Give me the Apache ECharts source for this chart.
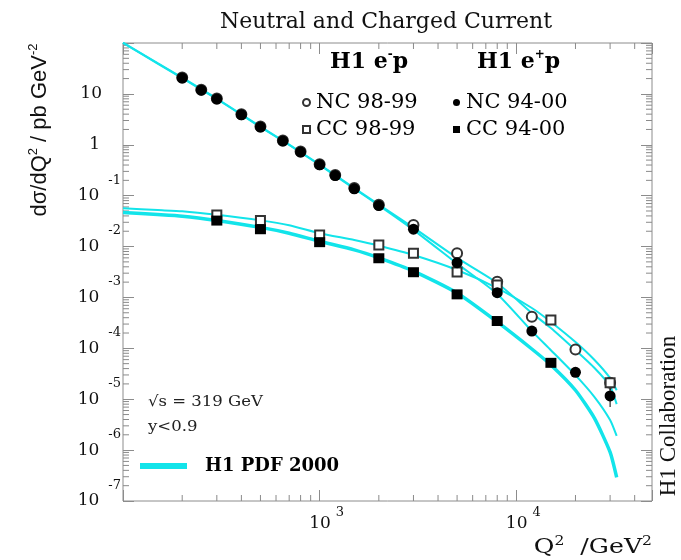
<!DOCTYPE html>
<html>
<head>
<meta charset="utf-8">
<script src="https://cdn.jsdelivr.net/npm/echarts@6.0.0/dist/echarts.min.js"></script>
<style>
html,body{margin:0;padding:0;background:#fff;}
#main{width:681px;height:560px;}
</style>
</head>
<body>
<div id="main"></div>
<script>
// ---- data ----
const q2NC = [200,250,300,400,500,650,800,1000,1200,1500,2000,3000,5000,8000,12000,20000,30000];
const ncEplus = [20.5,11.8,7.92,3.89,2.23,1.18,0.718,0.403,0.248,0.136,0.0638,0.0219,0.00482,0.00124,2.18e-4,3.37e-5,1.16e-5];
const ncEminus = [21.0,12.1,8.1,3.97,2.28,1.21,0.735,0.413,0.256,0.141,0.0665,0.0266,0.00738,0.00204,4.18e-4,9.53e-5,2.1e-5];

const q2CC = [300,500,1000,2000,3000,5000,8000,15000,30000];
const ccEminus = [0.0419,0.0324,0.0169,0.0107,0.00738,0.00316,0.00175,3.6e-4,2.1e-5];
const ccEplus = [0.0324,0.0219,0.0122,0.00589,0.00313,0.00115,3.44e-4,5.19e-5];

const errQ2 = [30000,30000];
const errLo = [7.0e-6,1.51e-5];
const errHi = [1.81e-5,2.72e-5];

const q2Curve = [100,150,200,300,500,700,1000,1500,2000,3000,5000,8000,12000,15000,20000,25000,30000,32400];
const curveNCplus = [100,39.5,20.5,7.94,2.23,0.99,0.40,0.137,0.0645,0.0213,0.00462,0.00117,2.18e-4,9.2e-5,2.97e-5,1.1e-5,3.9e-6,1.9e-6];
const curveNCminus = [102,40.2,20.9,8.1,2.28,1.01,0.41,0.141,0.067,0.0235,0.00597,0.00192,4.95e-4,2.5e-4,9.2e-5,4.1e-5,1.8e-5,8e-6];
const curveCCminus = [0.0565,0.052,0.0492,0.042,0.0327,0.0262,0.0183,0.0134,0.0104,0.00684,0.00347,0.00153,6.2e-4,3.3e-4,1.33e-4,5.9e-5,2.6e-5,1.5e-5];
const curveCCplus = [0.0465,0.0425,0.0395,0.0325,0.0238,0.0183,0.0127,0.0086,0.006,0.0033,0.00122,3.3e-4,9.7e-5,4.7e-5,1.5e-5,4.2e-6,9.1e-7,2.9e-7];

const xMin = 100, xMax = 49000, yMin = 1e-7, yMax = 100;

// ---- layout / style ----
const GRID = {left: 123, top: 43, width: 529, height: 458};
const SERIF = 'DejaVu Serif';
const CYAN = '#12e4ea';
const FRAME = '#8c8c8c';
const TICK_MAJOR = 11, TICK_MINOR = 6;
const PDF = 'H1 PDF 2000';

const zip = (xs, ys) => ys.map((v, i) => [xs[i], v]);
const pxPerDecY = GRID.height / Math.log10(yMax / yMin);

// minor tick marks (2..9 x 10^n) as thin rect symbols anchored on the axis values
const tickItems = [];
for (let e = 2; e <= 4; e++) for (let k = 2; k <= 9; k++) {
  const v = k * Math.pow(10, e);
  if (v > xMin && v < xMax) {
    const l = TICK_MINOR;
    tickItems.push({value: [v, yMin], symbolSize: [1, l], symbolOffset: [0, -l / 2]});
    tickItems.push({value: [v, yMax], symbolSize: [1, l], symbolOffset: [0, l / 2]});
  }
}
for (let e = -7; e <= 1; e++) for (let k = 2; k <= 9; k++) {
  const v = k * Math.pow(10, e);
  if (v > yMin && v < yMax) {
    const l = TICK_MINOR;
    tickItems.push({value: [xMin, v], symbolSize: [l, 1], symbolOffset: [l / 2, 0]});
    tickItems.push({value: [xMax, v], symbolSize: [l, 1], symbolOffset: [-l / 2, 0]});
  }
}
// error bars: thin rect centred (geometrically) between low and high
const errItems = errQ2.map((q, i) => ({
  value: [q, Math.sqrt(errLo[i] * errHi[i])],
  symbolSize: [1, Math.log10(errHi[i] / errLo[i]) * pxPerDecY]
}));

function decade(v) {
  const l = Math.log10(v); const e = Math.round(l);
  return Math.abs(l - e) < 1e-6 ? e : null;
}

const chart = echarts.init(document.getElementById('main'), null, {renderer: 'canvas'});

const curveSeries = (data, w) => ({
  type: 'line', name: PDF, data: data, showSymbol: false, smooth: 0.2,
  lineStyle: {color: CYAN, width: w}, itemStyle: {color: CYAN}, z: 2, silent: true
});
const majorTick = {show: true, inside: true, length: TICK_MAJOR, lineStyle: {color: FRAME, width: 1}};

const option = {
  animation: false,
  backgroundColor: '#fff',
  grid: Object.assign({show: true, borderColor: FRAME, borderWidth: 1, backgroundColor: 'transparent'}, GRID),
  xAxis: [{
    type: 'log', logBase: 10, min: xMin, max: xMax, splitNumber: 3, position: 'bottom',
    axisLine: {show: false}, axisTick: majorTick, splitLine: {show: false},
    axisLabel: {
      margin: 5, showMinLabel: true, showMaxLabel: true,
      formatter: v => { const e = decade(v); if (e === null || e === 2) return ''; return '{b|10}{s|' + e + '}'; },
      rich: {
        b: {fontFamily: SERIF, fontSize: 17, color: '#111', lineHeight: 36, verticalAlign: 'middle', padding: [0,0,0,14]},
        s: {fontFamily: SERIF, fontSize: 13, color: '#111', lineHeight: 14, verticalAlign: 'top', padding: [0,0,0,5]}
      }
    }
  }, {
    type: 'log', logBase: 10, min: xMin, max: xMax, splitNumber: 3, position: 'top',
    axisLine: {show: false}, axisTick: majorTick, splitLine: {show: false}, axisLabel: {show: false}
  }],
  yAxis: [{
    type: 'log', logBase: 10, min: yMin, max: yMax, splitNumber: 10, position: 'left',
    axisLine: {show: false}, axisTick: majorTick, splitLine: {show: false},
    axisLabel: {
      margin: 2, showMinLabel: true, showMaxLabel: true,
      formatter: v => {
        const e = decade(v);
        if (e === null || e === 2) return '';
        if (e === 1) return '{p|10}';
        if (e === 0) return '{q|1}';
        return '{b|10}{s|' + e + '}';
      },
      rich: {
        b: {fontFamily: SERIF, fontSize: 17, color: '#111', lineHeight: 44, verticalAlign: 'middle'},
        s: {fontFamily: SERIF, fontSize: 13, color: '#111', lineHeight: 14, verticalAlign: 'top', padding: [0,0,0,9]},
        p: {fontFamily: SERIF, fontSize: 17, color: '#111', padding: [0,19,0,0]},
        q: {fontFamily: SERIF, fontSize: 17, color: '#111', padding: [0,21,0,0]}
      }
    }
  }, {
    type: 'log', logBase: 10, min: yMin, max: yMax, splitNumber: 10, position: 'right',
    axisLine: {show: false}, axisTick: majorTick, splitLine: {show: false}, axisLabel: {show: false}
  }],
  legend: [
    {left: 302, top: 92, padding: 0, orient: 'vertical', itemGap: 6, itemWidth: 7, itemHeight: 7,
     data: ['NC 98-99', 'CC 98-99'], selectedMode: false,
     textStyle: {fontFamily: SERIF, fontSize: 21, lineHeight: 20, color: '#000', padding: [0,0,0,1]}},
    {left: 453, top: 92, padding: 0, orient: 'vertical', itemGap: 6, itemWidth: 7, itemHeight: 7,
     data: ['NC 94-00', 'CC 94-00'], selectedMode: false,
     textStyle: {fontFamily: SERIF, fontSize: 21, lineHeight: 20, color: '#000', padding: [0,0,0,1]}},
    {left: 140, top: 456, padding: 0, itemWidth: 47, itemHeight: 6, selectedMode: false,
     data: [{name: PDF, icon: 'rect', itemStyle: {color: CYAN}}],
     textStyle: {fontFamily: SERIF, fontSize: 18, fontWeight: 'bold', lineHeight: 20, color: '#000', padding: [0,0,0,13]}}
  ],
  graphic: [
    {type: 'text', x: 386, y: 22, style: {text: 'Neutral and Charged Current', font: '22px "DejaVu Serif"', fill: '#111', textAlign: 'center', textVerticalAlign: 'middle'}},
    {type: 'text', x: 330, y: 62, style: {text: '{b|H1 e}{s|-}{b|p}', textAlign: 'left', textVerticalAlign: 'middle',
      rich: {b: {fontFamily: SERIF, fontWeight: 'bold', fontSize: 22, lineHeight: 26, verticalAlign: 'middle', fill: '#000'},
             s: {fontFamily: SERIF, fontWeight: 'bold', fontSize: 12, lineHeight: 12, verticalAlign: 'top', fill: '#000'}}}},
    {type: 'text', x: 477, y: 62, style: {text: '{b|H1 e}{s|+}{b|p}', textAlign: 'left', textVerticalAlign: 'middle',
      rich: {b: {fontFamily: SERIF, fontWeight: 'bold', fontSize: 22, lineHeight: 26, verticalAlign: 'middle', fill: '#000'},
             s: {fontFamily: SERIF, fontWeight: 'bold', fontSize: 12, lineHeight: 12, verticalAlign: 'top', fill: '#000'}}}},
    {type: 'text', x: 148, y: 402, scaleX: 1.1, style: {text: '\u221As = 319 GeV', font: '15px "DejaVu Serif"', fill: '#222', textAlign: 'left', textVerticalAlign: 'middle'}},
    {type: 'text', x: 148, y: 427, scaleX: 1.1, style: {text: 'y<0.9', font: '15px "DejaVu Serif"', fill: '#222', textAlign: 'left', textVerticalAlign: 'middle'}},
    {type: 'text', x: 669, y: 416, rotation: Math.PI / 2, style: {text: 'H1 Collaboration', font: '23px "Liberation Serif"', fill: '#111', textAlign: 'center', textVerticalAlign: 'middle'}},
    {type: 'text', x: 40, y: 130, rotation: Math.PI / 2, style: {text: '{a|d\u03C3/dQ}{s|2}{a| / pb GeV}{s|-2}', textAlign: 'center', textVerticalAlign: 'middle',
      rich: {a: {fontFamily: 'Liberation Sans', fontSize: 22, lineHeight: 26, verticalAlign: 'middle', fill: '#111'},
             s: {fontFamily: 'Liberation Sans', fontSize: 13, lineHeight: 13, verticalAlign: 'top', fill: '#111'}}}},
    {type: 'text', x: 652, y: 548, scaleX: 1.2, style: {text: '{a|Q}{s|2}{a|  /GeV}{s|2}', textAlign: 'right', textVerticalAlign: 'middle',
      rich: {a: {fontFamily: SERIF, fontSize: 21, lineHeight: 26, verticalAlign: 'middle', fill: '#111'},
             s: {fontFamily: SERIF, fontSize: 13, lineHeight: 13, verticalAlign: 'top', fill: '#111'}}}}
  ],
  series: [
    {type: 'scatter', name: 'NC 98-99', data: zip(q2NC, ncEminus), symbol: 'emptyCircle', symbolSize: 10,
     itemStyle: {color: '#333', borderWidth: 1, opacity: 1}, z: 4},
    {type: 'scatter', name: 'CC 98-99', data: zip(q2CC, ccEminus), symbol: 'emptyRect', symbolSize: 9,
     itemStyle: {color: '#333', borderWidth: 1, opacity: 1}, z: 4},
    {type: 'scatter', name: 'NC 94-00', data: zip(q2NC, ncEplus), symbol: 'circle', symbolSize: 11,
     itemStyle: {color: '#000', opacity: 1}, z: 5},
    {type: 'scatter', name: 'CC 94-00', data: zip(q2CC, ccEplus), symbol: 'rect', symbolSize: [11, 10],
     itemStyle: {color: '#000', opacity: 1}, z: 5},
    curveSeries(zip(q2Curve, curveCCplus), 3.5),
    curveSeries(zip(q2Curve, curveCCminus), 2),
    curveSeries(zip(q2Curve, curveNCplus), 2),
    curveSeries(zip(q2Curve, curveNCminus), 2),
    {type: 'scatter', name: 'NC 94-00', data: errItems, symbol: 'rect', clip: false, silent: true,
     itemStyle: {color: '#000', opacity: 1}, z: 3},
    {type: 'scatter', name: PDF, data: tickItems, symbol: 'rect', clip: false, silent: true,
     itemStyle: {color: '#8a8a8a', opacity: 1}, z: 1}
  ]
};
chart.setOption(option);
</script>
</body>
</html>
